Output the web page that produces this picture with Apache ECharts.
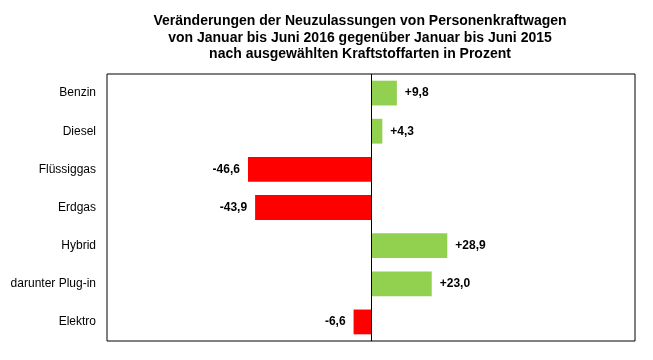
<!DOCTYPE html>
<html>
<head>
<meta charset="utf-8">
<script src="https://cdn.jsdelivr.net/npm/echarts@6/dist/echarts.min.js"></script>
<style>html,body{margin:0;padding:0;background:#fff}#c{width:653px;height:360px}</style>
</head>
<body>
<div id="c"></div>
<script>
var categories = ['Benzin', 'Diesel', 'Flüssiggas', 'Erdgas', 'Hybrid', 'darunter Plug-in', 'Elektro'];
var values = [9.8, 4.3, -46.6, -43.9, 28.9, 23.0, -6.6];
var titleLines = [
  'Veränderungen der Neuzulassungen von Personenkraftwagen',
  'von Januar bis Juni 2016 gegenüber Januar bis Juni 2015',
  'nach ausgewählten Kraftstoffarten in Prozent'
];

function fmt(v) {
  return (v > 0 ? '+' : '') + v.toFixed(1).replace('.', ',');
}

var chart = echarts.init(document.getElementById('c'), null, {renderer: 'canvas'});
chart.setOption({
  animation: false,
  backgroundColor: '#fff',
  title: {
    text: titleLines.join('\n'),
    left: 355,
    textAlign: 'center',
    top: 8,
    textStyle: {
      fontFamily: 'Liberation Sans, Arial, sans-serif',
      fontSize: 14,
      fontWeight: 'bold',
      color: '#000',
      lineHeight: 16.5
    }
  },
  grid: {
    left: 107, right: 18, top: 74, bottom: 19,
    show: true, borderColor: '#000', borderWidth: 1, backgroundColor: '#fff'
  },
  xAxis: {
    type: 'value', min: -100, max: 100, interval: 50,
    axisLine: {show: false}, axisTick: {show: false}, axisLabel: {show: false},
    splitLine: {show: false}
  },
  yAxis: {
    type: 'category', data: categories, inverse: true,
    axisLine: {show: false}, axisTick: {show: false},
    axisLabel: {
      margin: 11, color: '#000', fontSize: 12,
      fontFamily: 'Liberation Sans, Arial, sans-serif'
    },
    splitLine: {show: false}
  },
  series: [{
    type: 'bar',
    barWidth: '65%',
    data: values.map(function (v) {
      return {
        value: v,
        itemStyle: {color: v >= 0 ? '#92D050' : '#FF0000'},
        label: {show: true, position: v >= 0 ? 'right' : 'left', distance: 8}
      };
    }),
    label: {
      formatter: function (p) { return fmt(p.value); },
      color: '#000', fontSize: 12, fontWeight: 'bold',
      fontFamily: 'Liberation Sans, Arial, sans-serif'
    },
    markLine: {
      silent: true, symbol: 'none', label: {show: false},
      lineStyle: {color: '#000', width: 1, type: 'solid'},
      data: [{xAxis: 0}]
    }
  }]
});
</script>
</body>
</html>
